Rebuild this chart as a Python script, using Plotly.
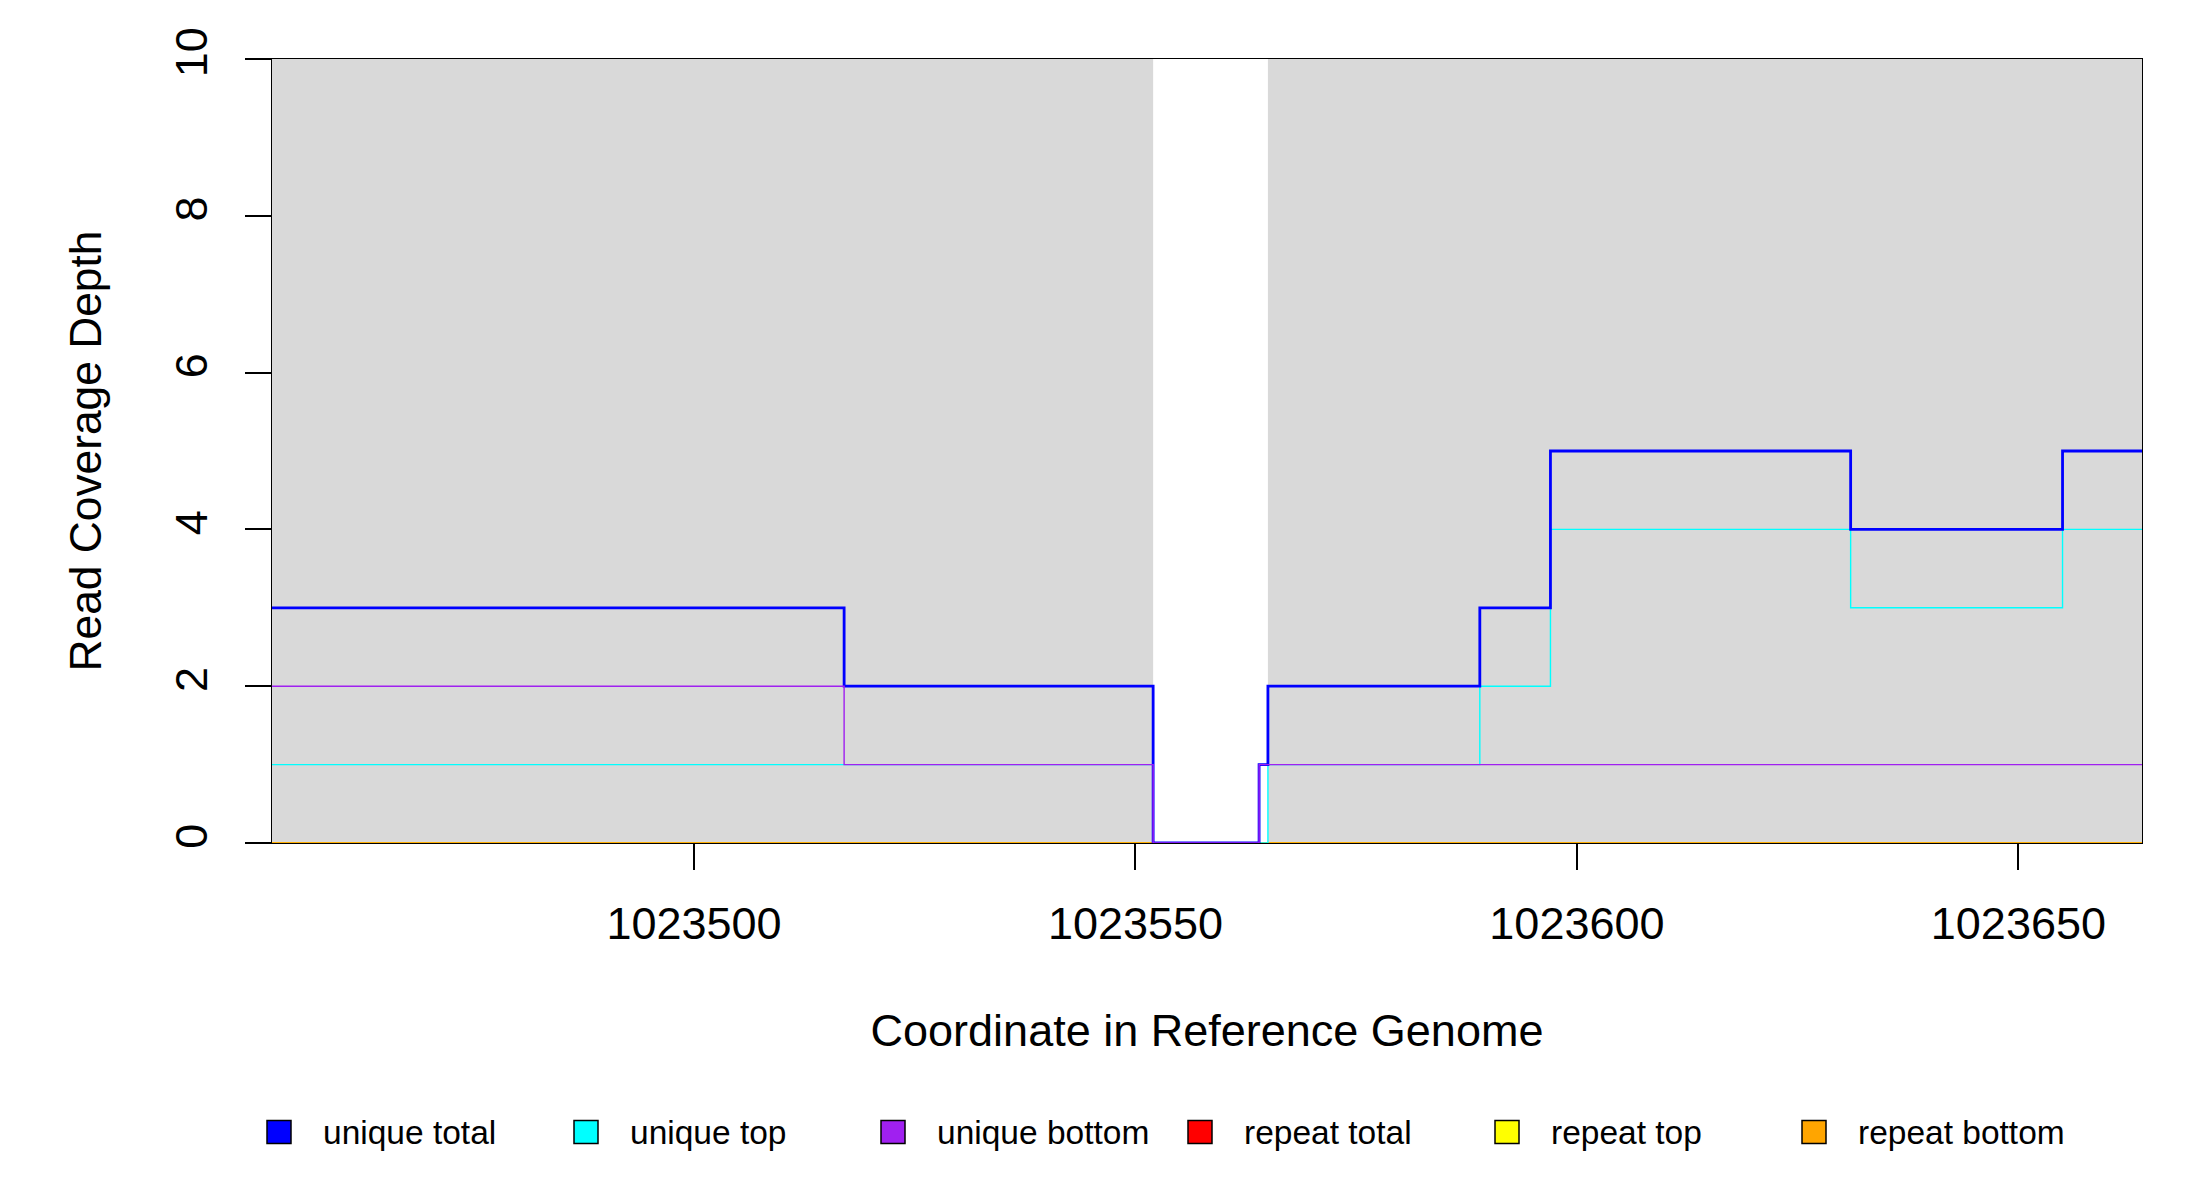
import plotly.graph_objects as go

# ---- data ----
pos_total = [1023452, 1023517, 1023552, 1023564, 1023565, 1023589, 1023597, 1023631, 1023655, 1023664]
unique_total = [3, 2, 0, 1, 2, 3, 5, 4, 5, 5]
pos_top = [1023452, 1023552, 1023565, 1023589, 1023597, 1023631, 1023655, 1023664]
unique_top = [1, 0, 1, 2, 4, 3, 4, 4]
pos_bottom = [1023452, 1023517, 1023552, 1023564, 1023664]
unique_bottom = [2, 1, 0, 1, 1]
pos_repeat = [1023452, 1023664]
repeat_total = [0, 0]
repeat_top = [0, 0]
repeat_bottom = [0, 0]
gap_region = [1023552, 1023565]
x_ticks = [1023500, 1023550, 1023600, 1023650]
x_tick_labels = ["1023500", "1023550", "1023600", "1023650"]
y_ticks = [0, 2, 4, 6, 8, 10]
legend_labels = ["unique total", "unique top", "unique bottom", "repeat total", "repeat top", "repeat bottom"]
legend_colors = ["#0000FF", "#00FFFF", "#A020F0", "#FF0000", "#FFFF00", "#FFA500"]

FONT = "Liberation Sans, Arial, sans-serif"
W, H = 2200, 1200
OFF = 8  # page body margin
L, R, T, B = 264, 66, 51, 365
PW, PH = W - L - R, H - T - B

fig = go.Figure()

def add_step(x, y, color, width, name):
    fig.add_trace(go.Scatter(x=x, y=y, mode="lines", line=dict(color=color, width=width, shape="hv"),
                             name=name, showlegend=False, hoverinfo="x+y+name"))

add_step(pos_repeat, repeat_total, legend_colors[3], 1.3, legend_labels[3])
add_step(pos_repeat, repeat_top, legend_colors[4], 1.3, legend_labels[4])
add_step(pos_repeat, repeat_bottom, legend_colors[5], 1.5, legend_labels[5])
add_step(pos_top, unique_top, legend_colors[1], 1.4, legend_labels[1])
add_step(pos_total, unique_total, legend_colors[0], 2.8, legend_labels[0])
add_step(pos_bottom, unique_bottom, legend_colors[2], 1.4, legend_labels[2])

# white gap (uncovered region)
fig.add_shape(type="rect", xref="x", yref="paper", x0=gap_region[0], x1=gap_region[1], y0=0, y1=1,
              fillcolor="white", line=dict(width=0), layer="below")

# manual legend (positions in screen pixels, converted to paper coords)
for i, (lab, col) in enumerate(zip(legend_labels, legend_colors)):
    cx = 279 + i * 307 - OFF
    cy = 1132 - OFF
    px0 = (cx - 12 - L) / PW
    px1 = (cx + 12 - L) / PW
    py0 = (T + PH - (cy + 11.5)) / PH
    py1 = (T + PH - (cy - 11.5)) / PH
    fig.add_shape(type="rect", xref="paper", yref="paper", x0=px0, x1=px1, y0=py0, y1=py1,
                  fillcolor=col, line=dict(color="black", width=1.5))
    fig.add_annotation(xref="paper", yref="paper", x=(cx + 42 - L) / PW, y=(T + PH - cy) / PH,
                       text=lab, showarrow=False, xanchor="left", yanchor="middle",
                       font=dict(family=FONT, size=33.5, color="black"))

fig.update_layout(
    width=W, height=H,
    margin=dict(l=L, r=R, t=T, b=B, autoexpand=False),
    paper_bgcolor="white", plot_bgcolor="#D9D9D9",
    font=dict(family=FONT, color="black"),
    showlegend=False,
)
fig.update_xaxes(
    range=[1023452.2, 1023664], tickmode="array", tickvals=x_ticks, ticktext=x_tick_labels,
    showgrid=False, zeroline=False, showline=True, mirror=True, linecolor="black", linewidth=1.3,
    ticks="outside", ticklen=26, tickwidth=1.5, tickcolor="black",
    tickfont=dict(family=FONT, size=45), ticklabelstandoff=15,
    title=dict(text="Coordinate in Reference Genome", font=dict(family=FONT, size=45), standoff=66),
)
fig.update_yaxes(
    range=[0, 10], tickmode="array", tickvals=y_ticks,
    showgrid=False, zeroline=False, showline=True, mirror=True, linecolor="black", linewidth=1.3,
    ticks="outside", ticklen=26, tickwidth=1.5, tickcolor="black", tickangle=-90,
    tickfont=dict(family=FONT, size=45), ticklabelstandoff=20,
    title=dict(text="Read Coverage Depth", font=dict(family=FONT, size=44.3), standoff=50),
)

fig.write_html("out.html")
